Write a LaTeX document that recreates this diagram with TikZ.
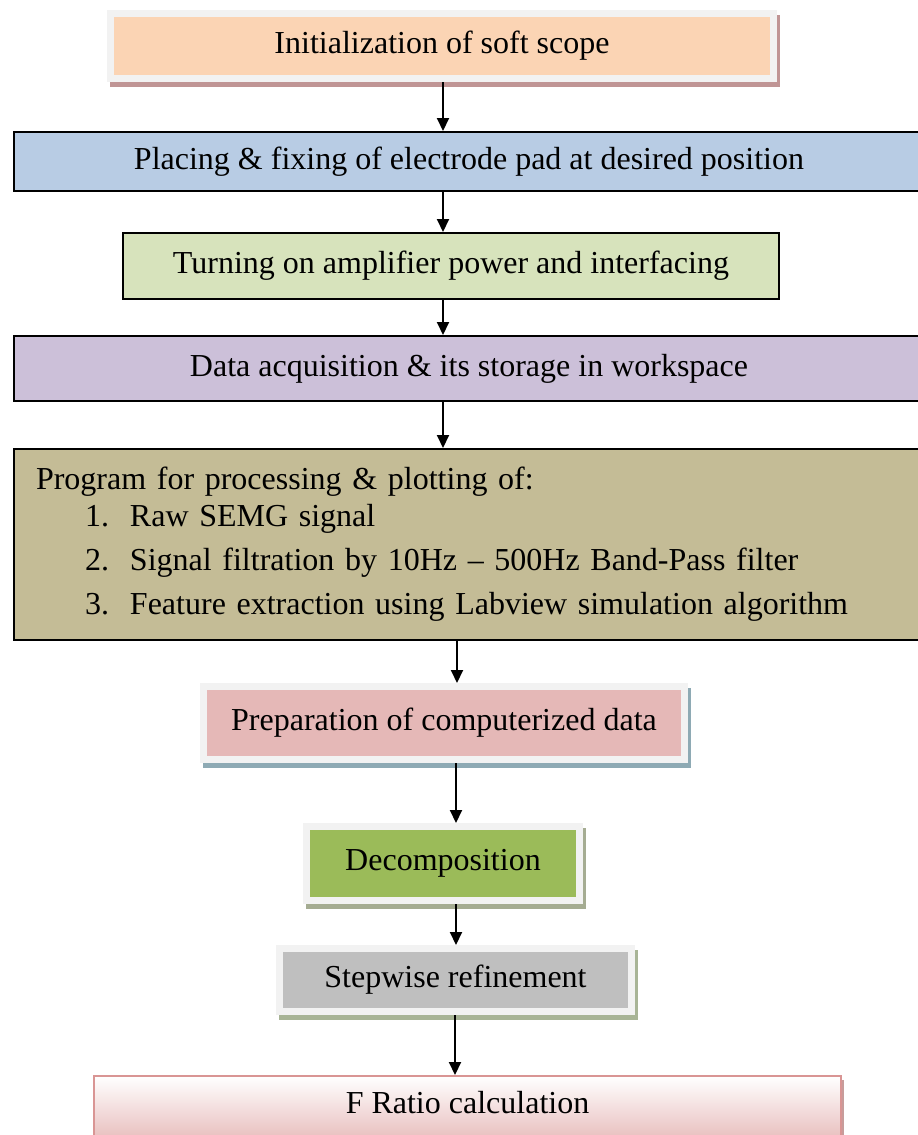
\documentclass[tikz,border=0pt]{standalone}
\usepackage{fontspec}
\setmainfont{Liberation Serif}
\usetikzlibrary{arrows.meta}

\definecolor{framegray}{HTML}{F2F2F2}
\definecolor{peach}{HTML}{FBD4B4}
\definecolor{paleblue}{HTML}{B8CCE4}
\definecolor{palegreen}{HTML}{D7E3BC}
\definecolor{lilac}{HTML}{CCC0D9}
\definecolor{tan}{HTML}{C4BC96}
\definecolor{rose}{HTML}{E5B8B7}
\definecolor{olivegreen}{HTML}{9BBB59}
\definecolor{midgray}{HTML}{BFBFBF}
\definecolor{roseline}{HTML}{D99594}
\definecolor{roseend}{HTML}{E3B0AF}
\definecolor{shadowrose}{HTML}{C09595}
\definecolor{shadowblue}{HTML}{8EAAB4}
\definecolor{shadowolive}{HTML}{A5AC92}
\definecolor{shadowsage}{HTML}{A8B496}
\definecolor{shadowpink}{HTML}{C79C9B}

\begin{document}
\begin{tikzpicture}[x=1pt,y=-1pt,
  txt/.style={font=\fontsize{32}{38}\selectfont, text=black},
  plainbox/.style={txt, draw=black, line width=2pt, fill=#1, inner sep=0pt, align=center},
  framedbox/.style 2 args={txt, draw=framegray, line width=7pt, fill=#1, inner sep=0pt,
    align=center,
    preaction={draw=#2, fill=#2, line width=7pt, transform canvas={xshift=3pt,yshift=-5pt}}},
  flow/.style={draw=black, line width=2pt, -{Triangle[width=12pt,length=13pt]}}]

\useasboundingbox (0,0) rectangle (918,1135);

% process steps, top to bottom
\node[framedbox={peach}{shadowrose}, minimum width=663pt, minimum height=65pt]
  (init) at (442,46) {Initialization of soft scope};
\node[plainbox=paleblue, minimum width=910pt, minimum height=59pt]
  (place) at (469,161.5) {Placing \& fixing of electrode pad at desired position};
\node[plainbox=palegreen, minimum width=656pt, minimum height=66pt]
  (amp) at (451,266) {Turning on amplifier power and interfacing};
\node[plainbox=lilac, minimum width=910pt, minimum height=65pt]
  (daq) at (469,368.5) {Data acquisition \& its storage in workspace};
\node[plainbox=tan, minimum width=910pt, minimum height=191pt, text width=866pt, align=left]
  (prog) at (469,544.5) {Program for processing \& plotting of:\\[-1pt]
  \hspace*{49pt}\makebox[45pt][l]{1.}Raw SEMG signal\\[6pt]
  \hspace*{49pt}\makebox[45pt][l]{2.}Signal filtration by 10Hz -- 500Hz Band-Pass filter\\[6pt]
  \hspace*{49pt}\makebox[45pt][l]{3.}Feature extraction using Labview simulation algorithm};
\node[framedbox={rose}{shadowblue}, minimum width=481pt, minimum height=73pt]
  (prep) at (444,723) {Preparation of computerized data};
\node[framedbox={olivegreen}{shadowolive}, minimum width=273pt, minimum height=74pt]
  (decomp) at (443,863.5) {Decomposition};
\node[framedbox={midgray}{shadowsage}, minimum width=352pt, minimum height=63pt]
  (refine) at (455.5,980) {Stepwise refinement};
\node[txt, draw=roseline, line width=2pt, top color=white, bottom color=roseend,
  inner sep=0pt, minimum width=747pt, text height=37.5pt, text depth=40pt, anchor=north,
  preaction={fill=shadowpink, transform canvas={xshift=3pt,yshift=-4pt}}]
  (fratio) at (467.5,1075) {F Ratio calculation};

% connector columns
\coordinate (c1) at (443,0);
\coordinate (c5) at (457,0);
\coordinate (c6) at (456,0);
\coordinate (c8) at (455,0);

\draw[flow] (init.south -| c1) -- (place.north -| c1);
\draw[flow] (place.south -| c1) -- (amp.north -| c1);
\draw[flow] (amp.south -| c1) -- (daq.north -| c1);
\draw[flow] (daq.south -| c1) -- (prog.north -| c1);
\draw[flow] (prog.south -| c5) -- (prep.north -| c5);
\draw[flow] (prep.south -| c6) -- (decomp.north -| c6);
\draw[flow] (decomp.south -| c6) -- (refine.north -| c6);
\draw[flow] (refine.south -| c8) -- (fratio.north -| c8);
\end{tikzpicture}
\end{document}
